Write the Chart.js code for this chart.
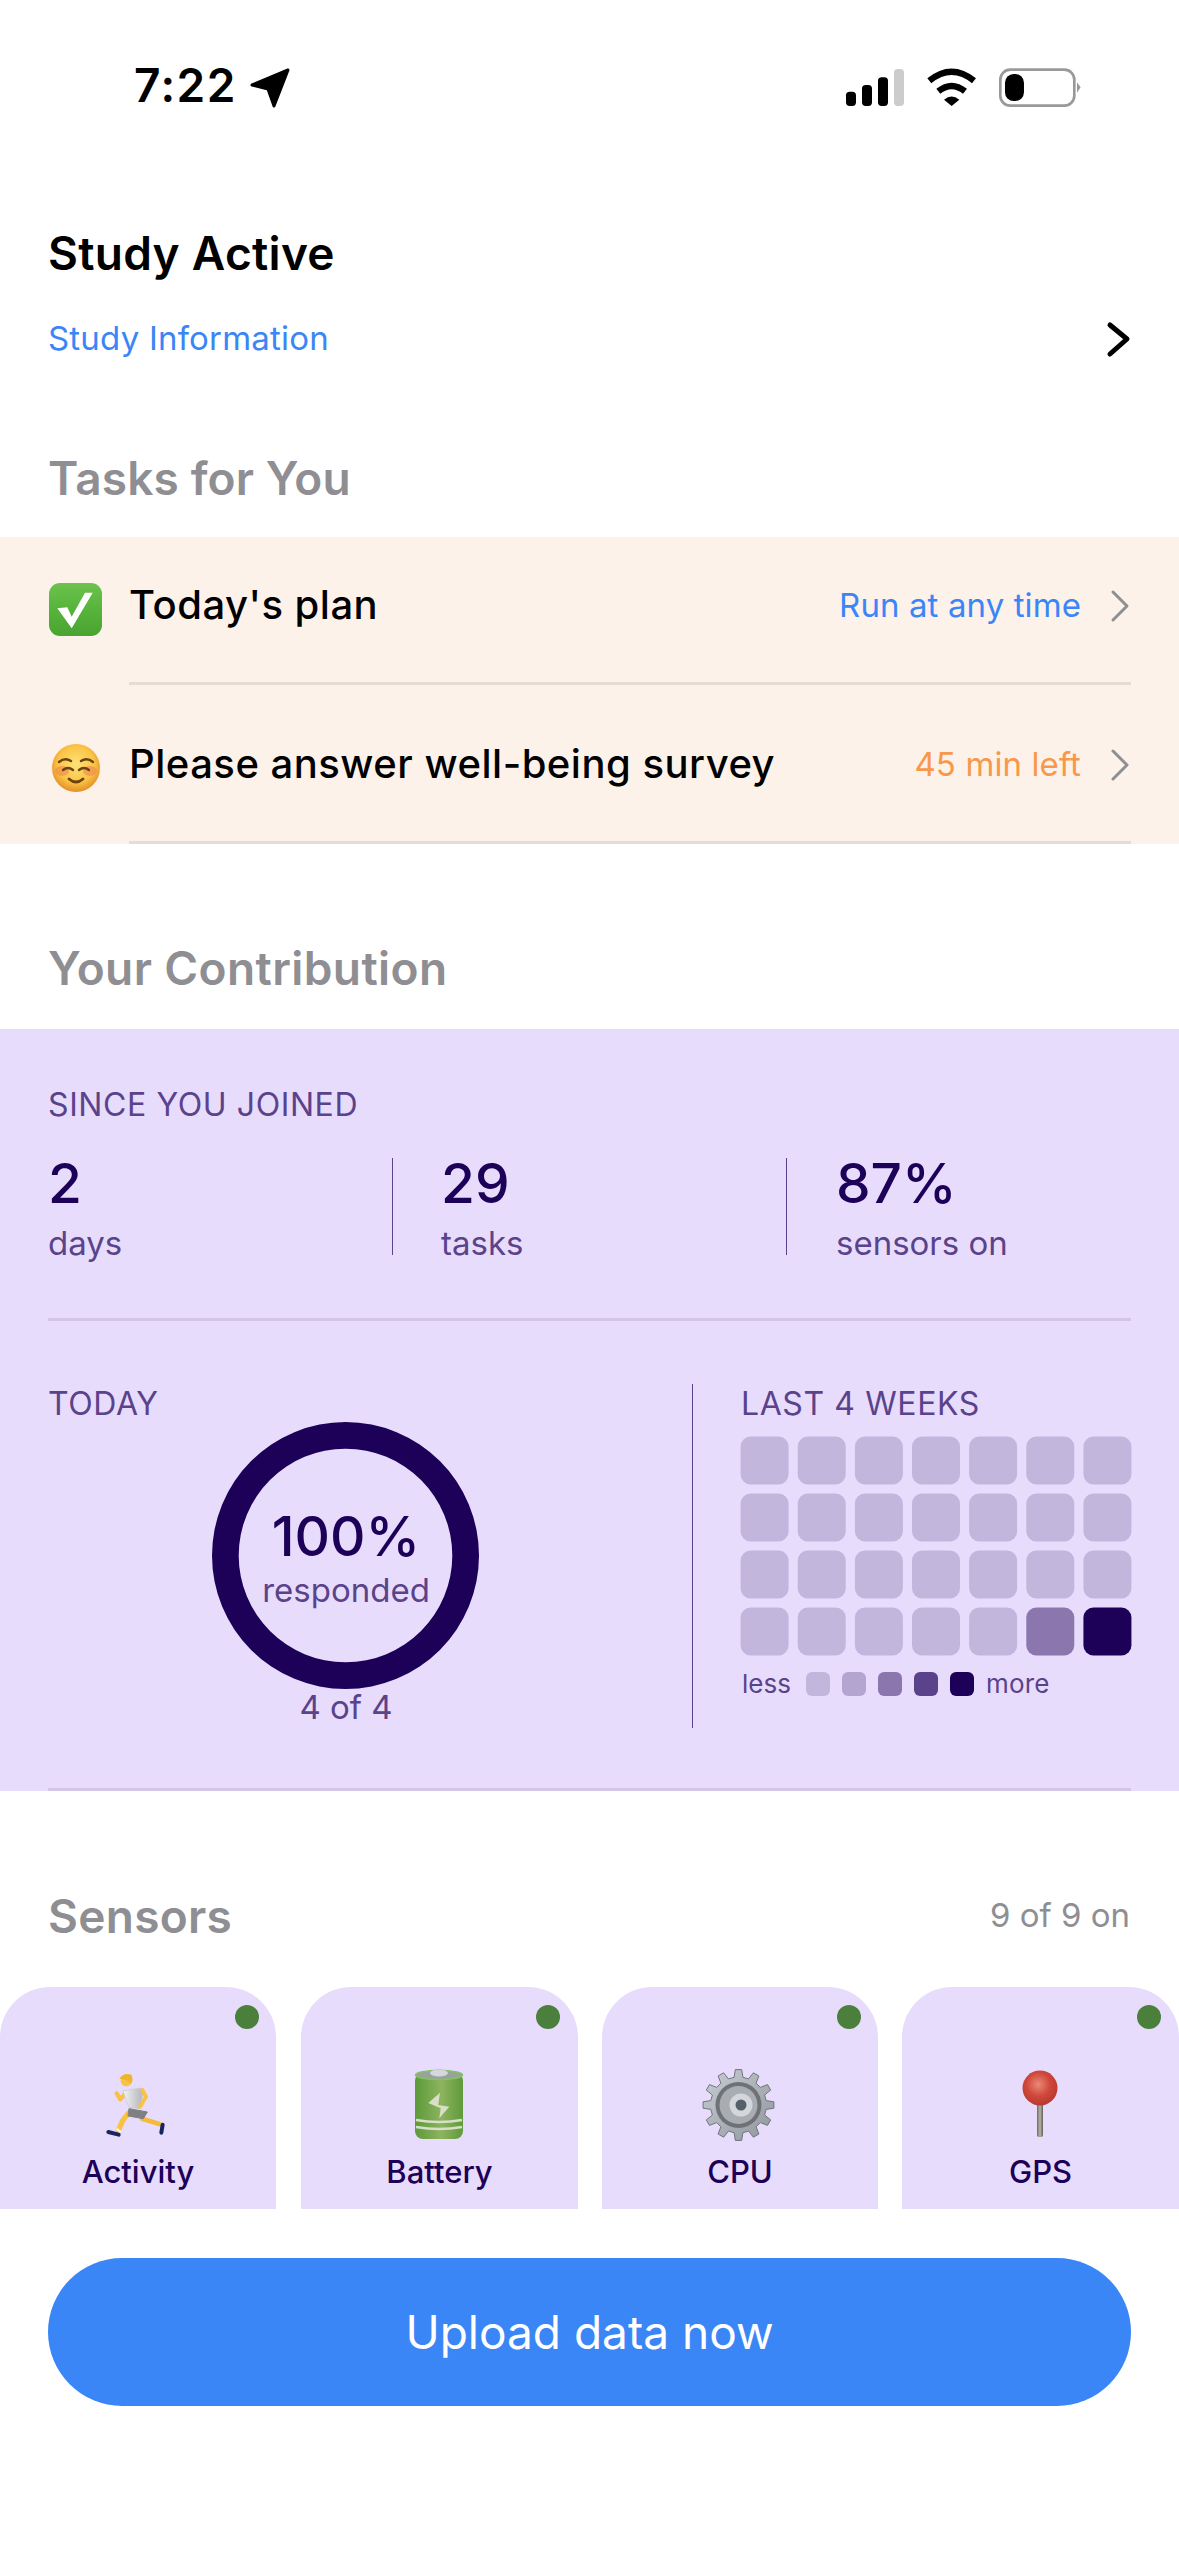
<!DOCTYPE html>
<html lang="en">
<head>
<meta charset="utf-8">
<title>Study Active</title>
<script src="https://cdn.jsdelivr.net/npm/chart.js@4"></script>
<style>
html,body{margin:0;padding:0;background:#fff}
#page{position:relative;width:1179px;height:2556px;overflow:hidden;background:#fff;font-family:Inter,"Noto Sans",sans-serif}
.box{position:absolute}
.t{position:absolute;white-space:nowrap;line-height:1}
canvas{position:absolute;display:block}
svg.icons{position:absolute;left:0;top:0;pointer-events:none}
</style>
</head>
<body>
<div id="page"></div>
<script>
/* ---- data ---- */
const dayLabels = ['Mon','Tue','Wed','Thu','Fri','Sat','Sun'];
const weekLabels = ['Week 1','Week 2','Week 3','Week 4'];
const week1Levels = [0,0,0,0,0,0,0];
const week2Levels = [0,0,0,0,0,0,0];
const week3Levels = [0,0,0,0,0,0,0];
const week4Levels = [0,0,0,0,0,2,4];
const legendLevels = [0,1,2,3,4];
const todayLabels = ['responded','remaining'];
const todayCounts = [4,0];
const statValues = ['2','29','87%'];
const statLabels = ['days','tasks','sensors on'];
const sensorNames = ['Activity','Battery','CPU','GPS'];

/* ---- palette ---- */
const levelColors = ['#c2b6dd','#b4a4d0','#8b77ae','#5a438b','#1d0058'];
const INK='#1d0058', MUTED='#5a438b', LILAC='#e8dcfd', CREAM='#fdf2ea', BLUE='#3b86f6', ORANGE='#f7984a', GREY='#8e8e93';

const page=document.getElementById('page');
function box(x,y,w,h,bg,extra){const d=document.createElement('div');d.className='box';
  d.style.cssText=`left:${x}px;top:${y}px;width:${w}px;height:${h}px;background:${bg};${extra||''}`;page.appendChild(d);return d;}
/* text placed by baseline: Inter ascent within line-height 1 box is about .85em */
function text(s,x,base,size,weight,color,align,spacing){const d=document.createElement('div');d.className='t';d.textContent=s;
  const top=base-size*0.862;
  let pos=`left:${x}px;`;
  if(align==='center')pos=`left:${x}px;transform:translateX(-50%);`;
  if(align==='right')pos=`right:${1179-x}px;`;
  d.style.cssText=`${pos}top:${top}px;font-size:${size}px;font-weight:${weight};color:${color};letter-spacing:${spacing||0}px;`;page.appendChild(d);return d;}

/* bands */
box(0,537,1179,307,CREAM);
box(129,682,1002,3,'#e6dcd3');
box(129,841,1002,3,'#e6dcd3');
box(0,1029,1179,762,LILAC);
box(48,1318,1083,3,'#d2c6e4');
box(48,1788,1083,3,'#d2c6e4');
box(392,1158,1,97,'#5a438b');
box(786,1158,1,97,'#5a438b');
box(692,1384,1,344,'#5a438b');

/* sensor cards */
const cardX=[0,301,602,902], cardW=[276,277,276,277];
sensorNames.forEach((n,i)=>{
  box(cardX[i],1987,cardW[i],222,LILAC,'border-radius:50px 50px 0 0');
  box(cardX[i]+235,2005,24,24,'#4a7f3c','border-radius:50%');
  text(n,cardX[i]+cardW[i]/2,2183,31,500,INK,'center');
});
box(48,2258,1083,148,BLUE,'border-radius:74px');

/* header texts */
text('7:22',134,102,46,600,'#000',null,1.5);
text('Study Active',48,270,46,600,'#000',null,0.3);
text('Study Information',48,350,33,400,BLUE,null,0.2);
text('Tasks for You',48,495,46,600,GREY,null,0.15);
text("Today's plan",129,619,40,500,'#000',null,0.5);
text('Run at any time',1081,617,33,400,BLUE,'right',0.1);
text('Please answer well-being survey',129,778,40,500,'#000',null,0.5);
text('45 min left',1081,776,33,400,ORANGE,'right',0.1);
text('Your Contribution',48,985,46,600,GREY,null,0.4);

/* contribution */
text('SINCE YOU JOINED',48,1117,32,400,MUTED,null,0.6);
const statX=[48,441,836];
statValues.forEach((v,i)=>{text(v,statX[i],1203,55,500,INK);text(statLabels[i],statX[i],1255,33,400,MUTED);});
text('TODAY',48,1416,32,400,MUTED,null,0.6);
text('LAST 4 WEEKS',741,1416,32,400,MUTED,null,0.6);
const pct=Math.round(todayCounts[0]/(todayCounts[0]+todayCounts[1])*100);
text(pct+'%',346,1556,55,500,INK,'center');
text(todayLabels[0],346,1602,33,400,MUTED,'center');
text(todayCounts[0]+' of '+(todayCounts[0]+todayCounts[1]),346,1719,33,400,MUTED,'center');
text('less',742,1693,26,400,MUTED);
text('more',986,1693,26,400,MUTED,null,0.2);

/* sensors header + button */
text('Sensors',48,1933,46,600,GREY,null,0.3);
text('9 of 9 on',1130,1927,33,400,GREY,'right');
text('Upload data now',589.5,2349,46,400,'#fff','center');

function canvas(x,y,w,h){const c=document.createElement('canvas');c.width=w;c.height=h;c.style.cssText=`left:${x}px;top:${y}px;width:${w}px;height:${h}px`;page.appendChild(c);return c;}
const hidden={display:false,grid:{display:false},border:{display:false}};
const bare={responsive:false,animation:false,maintainAspectRatio:false,devicePixelRatio:1,layout:{padding:0},
  plugins:{legend:{display:false},tooltip:{enabled:false},title:{display:false}},events:[]};

/* today ring */
new Chart(canvas(212,1422,267,267),{type:'doughnut',
  data:{labels:todayLabels,datasets:[{data:todayCounts,backgroundColor:[INK,'rgba(0,0,0,0)'],borderWidth:0}]},
  options:{...bare,cutout:'80%',rotation:0}});

/* last 4 weeks grid: one floating-bar dataset per week, top week on top */
const weeks=[week1Levels,week2Levels,week3Levels,week4Levels];
const GAP=0.0789;
new Chart(canvas(736,1432,400,228),{type:'bar',
  data:{labels:dayLabels,datasets:weeks.map((w,r)=>({
    label:weekLabels[r],
    data:w.map(()=>[weeks.length-1-r+GAP,weeks.length-r-GAP]),
    backgroundColor:w.map(l=>levelColors[l]),
    borderWidth:0,borderSkipped:false,borderRadius:10,inflateAmount:0,
    grouped:false,barPercentage:1,categoryPercentage:0.84}))},
  options:{...bare,scales:{x:{...hidden},y:{...hidden,min:0,max:weeks.length}}}});

/* colour key */
new Chart(canvas(800,1672,180,24),{type:'bar',
  data:{labels:legendLevels.map(String),datasets:[{data:legendLevels.map(()=>1),
    backgroundColor:legendLevels.map(l=>levelColors[l]),borderWidth:0,borderSkipped:false,borderRadius:6,inflateAmount:0,
    barPercentage:1,categoryPercentage:0.667}]},
  options:{...bare,scales:{x:{...hidden},y:{...hidden,min:0,max:1}}}});

/* gear outline for the CPU icon */
function gearPath(cx,cy,ro,ri,n){let p='';for(let i=0;i<n;i++){const a=i/n*2*Math.PI-Math.PI/2,s=2*Math.PI/n;
  [[-.30,ri],[-.17,ro],[.17,ro],[.30,ri]].forEach(([f,r],k)=>{const b=a+f*s;p+=(i===0&&k===0?'M':'L')+(cx+r*Math.cos(b)).toFixed(1)+' '+(cy+r*Math.sin(b)).toFixed(1);});}
  return p+'Z';}

const svg=`<svg class="icons" xmlns="http://www.w3.org/2000/svg" width="1179" height="2556" viewBox="0 0 1179 2556">
<defs>
<linearGradient id="gCheck" x1="0" y1="0" x2="0" y2="1"><stop offset="0" stop-color="#6cc24e"/><stop offset=".5" stop-color="#56b43a"/><stop offset="1" stop-color="#4aa332"/></linearGradient>
<radialGradient id="gFace" cx=".5" cy=".42" r=".58"><stop offset="0" stop-color="#fde27a"/><stop offset=".65" stop-color="#fbc445"/><stop offset="1" stop-color="#e28f28"/></radialGradient>
<linearGradient id="gBat" x1="0" y1="0" x2="1" y2="0"><stop offset="0" stop-color="#5c9a3a"/><stop offset=".55" stop-color="#8db35e"/><stop offset="1" stop-color="#5e9a3c"/></linearGradient>
<radialGradient id="gPin" cx=".45" cy=".4" r=".62"><stop offset="0" stop-color="#e98a78"/><stop offset=".55" stop-color="#d0473a"/><stop offset="1" stop-color="#b5392f"/></radialGradient>
<linearGradient id="gStem" x1="0" y1="0" x2="1" y2="0"><stop offset="0" stop-color="#6b6a62"/><stop offset=".5" stop-color="#b9b6a8"/><stop offset="1" stop-color="#5f5d55"/></linearGradient>
<linearGradient id="gGear" x1="0" y1="0" x2="1" y2="1"><stop offset="0" stop-color="#c9ced4"/><stop offset="1" stop-color="#8f959c"/></linearGradient>
<linearGradient id="gShirt" x1="0" y1="0" x2="1" y2="0"><stop offset="0" stop-color="#f1f1f3"/><stop offset="1" stop-color="#b4b6bc"/></linearGradient>
</defs>

<!-- status bar -->
<path d="M252 85 L288 70 L274 106 L268 89 Z" fill="#000" stroke="#000" stroke-width="3" stroke-linejoin="round"/>
<g transform="translate(830 50) scale(.3333)">
<rect x="48" y="125" width="30" height="43" rx="11"/><rect x="96" y="105" width="30" height="63" rx="11"/><rect x="144" y="82" width="30" height="86" rx="11"/><rect x="192" y="57" width="30" height="111" rx="11" fill="#cccccc"/>
<path d="M298 92 Q365 38 432 92" fill="none" stroke="#000" stroke-width="19"/><path d="M325 124 Q365 92 405 124" fill="none" stroke="#000" stroke-width="19"/><path d="M342 149 Q365 130 388 149 L365 168 Z"/>
<rect x="511" y="59" width="222" height="108" rx="30" fill="none" stroke="#999" stroke-width="8"/><rect x="525" y="72" width="57" height="81" rx="26"/><path d="M741 97 L752 112 L741 128 Z" fill="#999"/>
</g>

<!-- chevrons -->
<path d="M1110 325 L1127 339 L1110 354" fill="none" stroke="#000" stroke-width="5" stroke-linecap="round" stroke-linejoin="round"/>
<path d="M1113 592 L1127 606 L1113 620" fill="none" stroke="#8e8e93" stroke-width="3" stroke-linecap="round" stroke-linejoin="round"/>
<path d="M1113 751 L1127 765 L1113 779" fill="none" stroke="#8e8e93" stroke-width="3" stroke-linecap="round" stroke-linejoin="round"/>

<!-- check box -->
<rect x="49" y="583" width="53" height="53" rx="11" fill="url(#gCheck)"/>
<path d="M57.3 608.3 L67.3 607.3 L71.7 616.7 L85 592.7 L92.7 592.7 L71.7 628.3 Z" fill="#fff"/>

<!-- smiling face -->
<circle cx="76" cy="768" r="24" fill="url(#gFace)"/>
<ellipse cx="62" cy="771" rx="7" ry="5" fill="#ef8a50" opacity=".65"/><ellipse cx="90" cy="771" rx="7" ry="5" fill="#ef8a50" opacity=".65"/>
<g fill="none" stroke="#6b4210" stroke-width="2.4" stroke-linecap="round">
<path d="M59 762 Q65 757 71 761"/><path d="M81 761 Q87 757 93 762"/><path d="M63 770 Q68 766 73 770"/><path d="M79 770 Q84 766 89 770"/><path d="M69 779 Q76 785 83 779" stroke-width="2.8"/>
</g>

<!-- runner -->
<g transform="translate(60 2050) scale(.3333)" stroke-linecap="round" stroke-linejoin="round">
<path d="M205 190 L188 212 L176 240" fill="none" stroke="#f8c245" stroke-width="16"/>
<path d="M246 206 L298 222" fill="none" stroke="#f5b93c" stroke-width="14"/>
<path d="M145 246 L176 254" fill="none" stroke="#17265c" stroke-width="12"/>
<path d="M308 224 L304 248" fill="none" stroke="#17265c" stroke-width="12"/>
<path d="M172 238 L180 244" fill="none" stroke="#fff" stroke-width="6"/>
<path d="M198 128 L181 148 L170 130" fill="none" stroke="#f8c245" stroke-width="13"/>
<path d="M190 122 L244 114 L248 132 L240 176 L207 172 L195 142 Z" fill="url(#gShirt)" stroke="#c6c8cd" stroke-width="2"/>
<path d="M208 176 L262 186 L250 206 L205 198 Z" fill="#7d7f83" stroke="#7d7f83" stroke-width="3"/>
<path d="M247 120 L258 140 L240 170" fill="none" stroke="#f8c245" stroke-width="12"/>
<circle cx="199" cy="92" r="17" fill="#f8c245"/>
<path d="M178 86 Q190 66 214 74 Q222 90 212 102 Q206 88 178 86 Z" fill="#eeb52a"/>
</g>

<!-- battery -->
<ellipse cx="439" cy="2075" rx="10" ry="6" fill="#b8bcc2"/>
<rect x="415" y="2073" width="48" height="66" rx="8" fill="url(#gBat)"/>
<ellipse cx="439" cy="2075" rx="23.5" ry="4.5" fill="#9aa39a" stroke="#84c267" stroke-width="1.5"/>
<ellipse cx="439" cy="2073" rx="9" ry="3.5" fill="#d4d8dc"/>
<path d="M428.3 2103 L440 2092.7 L438.3 2105 L449.3 2106.7 L439.3 2118.3 L440.7 2108.3 Z" fill="#d7dfc6"/>
<g fill="none" stroke="#d7dfc6" stroke-width="2.6"><path d="M416 2120 Q439 2124 462 2120"/><path d="M416 2127 Q439 2131 462 2127"/></g>

<!-- gear -->
<path d="${gearPath(738.5,2105,35.5,28,12)}" fill="url(#gGear)" stroke="#6f747a" stroke-width="1"/>
<circle cx="738.5" cy="2105" r="23" fill="#6e7277"/>
<circle cx="738.5" cy="2105" r="19" fill="#a9adb2"/>
<circle cx="741" cy="2105" r="11.5" fill="#d3d7db"/>
<circle cx="741" cy="2105" r="5.5" fill="#55606a"/>

<!-- pin -->
<rect x="1037" y="2102" width="6" height="35" rx="2" fill="url(#gStem)"/>
<circle cx="1040" cy="2088" r="17.5" fill="url(#gPin)"/>
</svg>`;
page.insertAdjacentHTML('beforeend',svg);
</script>
</body>
</html>
